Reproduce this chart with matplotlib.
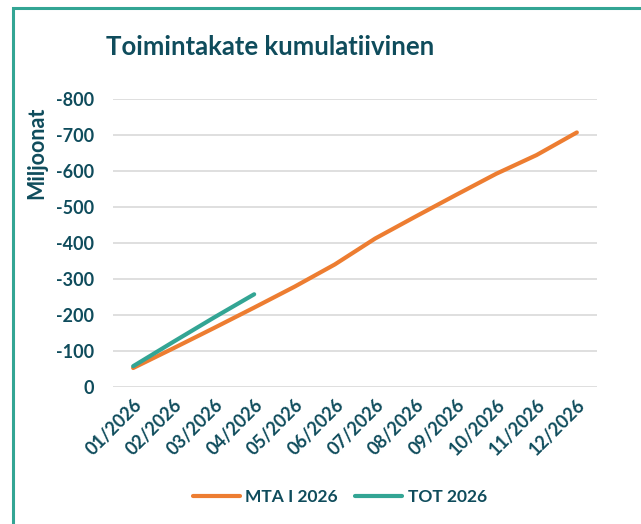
import matplotlib
matplotlib.use("Agg")
import matplotlib.pyplot as plt
from matplotlib.patches import Rectangle

plt.rcParams['axes.unicode_minus'] = False
plt.rcParams['font.family'] = ['Lato', 'DejaVu Sans']

months = ["01/2026", "02/2026", "03/2026", "04/2026", "05/2026", "06/2026",
          "07/2026", "08/2026", "09/2026", "10/2026", "11/2026", "12/2026"]
mta = [-52, -107, -163, -220, -278, -340, -412, -473, -533, -592, -644, -707]
tot = [-57, -125, -192, -257]
yticks = [0, -100, -200, -300, -400, -500, -600, -700, -800]

text_col = "#0F4C5C"
orange = "#ED7D31"
teal = "#33A594"

fig = plt.figure(figsize=(6.41, 5.24), dpi=100)
ax = fig.add_axes([113/641, 1-386.7/524, (597-113)/641, (386.7-99)/524])

x = list(range(len(months)))
ax.plot(x, mta, color=orange, lw=3.0, solid_capstyle='round', label="MTA I 2026", zorder=3)
ax.plot(x[:len(tot)], tot, color=teal, lw=3.0, solid_capstyle='round', label="TOT 2026", zorder=4)

ax.set_xlim(-0.5, len(months) - 0.5)
ax.set_ylim(0, -800)
ax.set_yticks(yticks)
ax.set_yticklabels([str(v) for v in yticks], fontsize=13, fontweight='bold', color=text_col)
ax.set_xticks(x)
ax.set_xticklabels(months, rotation=45, ha='right', rotation_mode='anchor',
                   fontsize=13, fontweight='bold', color=text_col)
ax.tick_params(axis='both', length=0)
ax.tick_params(axis='y', pad=13.5)
ax.tick_params(axis='x', pad=7)
ax.grid(axis='y', color='#D9D9D9', lw=1.2)
ax.set_axisbelow(True)
for s in ax.spines.values():
    s.set_visible(False)

ax.set_ylabel("Miljoonat", fontsize=15.5, fontweight='bold', color=text_col)
ax.yaxis.set_label_coords((47-113)/484, (386.7-153)/287.7)

fig.text(270/641, 1-47/524, "Toimintakate kumulatiivinen", ha='center', va='center',
         fontsize=18.5, fontweight='bold', color=text_col)

leg = fig.legend(loc='center', bbox_to_anchor=(340/641, 1-497/524), ncol=2, frameon=False,
                 prop={'size': 12.5, 'weight': 'bold'}, handlelength=2.7, handletextpad=0.3,
                 columnspacing=1.0)
for t in leg.get_texts():
    t.set_color(text_col)

fig.patches.append(Rectangle((13/641, -0.1), 1.2, 1 - 8.5/524 + 0.1, transform=fig.transFigure,
                             fill=False, edgecolor=teal, lw=2.2, zorder=10))

fig.savefig("out.png", dpi=100)
